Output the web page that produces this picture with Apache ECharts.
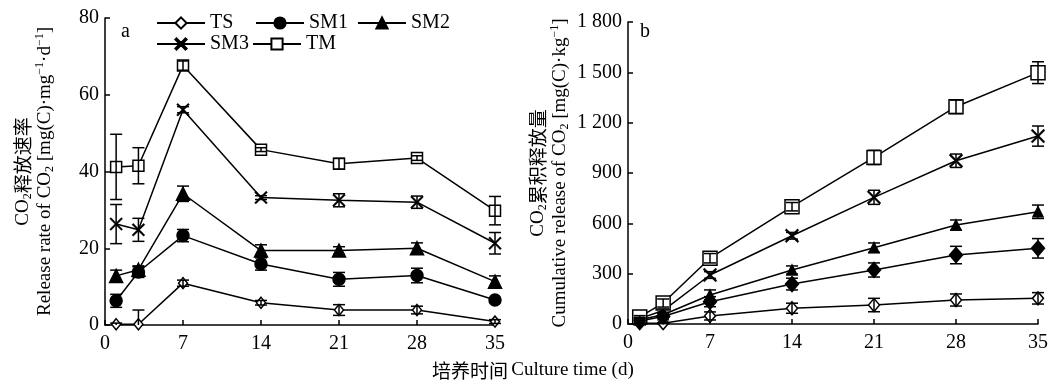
<!DOCTYPE html>
<html>
<head>
<meta charset="utf-8">
<style>
  html, body { margin: 0; padding: 0; background: #fff; }
  #main { width: 1051px; height: 383px; }
</style>
<script src="https://cdn.jsdelivr.net/npm/echarts@6/dist/echarts.min.js"></script>
</head>
<body>
<div id="main"></div>
<script>
// culture days
var days = [1, 3, 7, 14, 21, 28, 35];
var names = ['TS', 'SM1', 'SM2', 'SM3', 'TM'];

// a: CO2 release rate
var rateTS  = [0.2, 0.2, 10.9, 5.8, 3.9, 3.9, 0.9];
var rateSM1 = [6.3, 13.8, 23.3, 15.9, 11.9, 12.9, 6.5];
var rateSM2 = [12.8, 14.4, 34.2, 19.4, 19.4, 20.0, 11.3];
var rateSM3 = [26.3, 24.8, 56.1, 33.2, 32.5, 32.0, 21.3];
var rateTM  = [41.2, 41.5, 67.6, 45.7, 42.0, 43.5, 29.8];
var rateErrTS  = [0.3, 3.7, 0.8, 0.6, 1.4, 1.0, 0.5];
var rateErrSM1 = [1.7, 1.4, 1.6, 1.6, 1.8, 1.9, 0.6];
var rateErrSM2 = [1.5, 1.0, 2.0, 1.5, 1.0, 1.4, 1.5];
var rateErrSM3 = [5.1, 3.0, 0.8, 0.5, 1.7, 1.6, 2.8];
var rateErrTM  = [8.5, 4.7, 1.2, 0.5, 1.4, 0.6, 3.7];

// b: cumulative CO2 release
var cumTS  = [5, 5, 48, 94, 113, 143, 153];
var cumSM1 = [18, 45, 133, 238, 322, 411, 451];
var cumSM2 = [25, 55, 173, 322, 455, 590, 669];
var cumSM3 = [32, 80, 292, 526, 755, 973, 1120];
var cumTM  = [42, 125, 392, 699, 993, 1295, 1498];
var cumErrTS  = [3, 3, 24, 30, 40, 36, 34];
var cumErrSM1 = [5, 8, 30, 35, 42, 52, 58];
var cumErrSM2 = [5, 8, 30, 24, 28, 30, 40];
var cumErrSM3 = [8, 10, 20, 20, 42, 40, 60];
var cumErrTM  = [8, 24, 28, 25, 42, 40, 65];

var xTicks = [0, 7, 14, 21, 28, 35];
var rateTicks = [0, 20, 40, 60, 80];
var cumTicks = [0, 300, 600, 900, 1200, 1500, 1800];

var SERIF = "'Liberation Serif', 'Times New Roman', serif";
var CJK = "'Noto Sans CJK SC', sans-serif";
var XMARK = 'path://M0,1L1,0L5,4L9,0L10,1L6,5L10,9L9,10L5,6L1,10L0,9L4,5Z';

var chart = echarts.init(document.getElementById('main'), null, { renderer: 'canvas' });

var rich = {
  e: { fontFamily: SERIF, fontSize: 19, lineHeight: 22, color: '#000' },
  c: { fontFamily: CJK, fontSize: 19, lineHeight: 22, color: '#000' },
  sub: { fontFamily: SERIF, fontSize: 12, lineHeight: 8, verticalAlign: 'bottom', color: '#000' },
  sup: { fontFamily: SERIF, fontSize: 12, lineHeight: 8, verticalAlign: 'top', color: '#000' }
};

function pairs(vals) {
  return days.map(function (d, i) { return [d, vals[i]]; });
}

function errData(vals, errs) {
  return days.map(function (d, i) { return [d, vals[i], errs[i]]; });
}

function errRender(params, api) {
  var x = api.value(0), y = api.value(1), e = api.value(2);
  var lowV = Math.max(0, y - e);
  var hi = api.coord([x, y + e]);
  var lo = api.coord([x, lowV]);
  var w = 6;
  var st = { stroke: '#000', lineWidth: 1.5 };
  var kids = [
    { type: 'line', shape: { x1: hi[0], y1: hi[1], x2: lo[0], y2: lo[1] }, style: st },
    { type: 'line', shape: { x1: hi[0] - w, y1: hi[1], x2: hi[0] + w, y2: hi[1] }, style: st }
  ];
  if (y - e > 0) {
    kids.push({ type: 'line', shape: { x1: lo[0] - w, y1: lo[1], x2: lo[0] + w, y2: lo[1] }, style: st });
  }
  return { type: 'group', children: kids };
}

function lineSeries(name, vals, sym, size, fill, idx) {
  return {
    type: 'line',
    name: name,
    xAxisIndex: idx,
    yAxisIndex: idx,
    data: pairs(vals),
    symbol: sym,
    symbolSize: size,
    showAllSymbol: true,
    itemStyle: { color: fill, borderColor: '#000', borderWidth: sym === XMARK ? 0.3 : 1.5 },
    lineStyle: { color: '#000', width: 1.5 },
    emphasis: { disabled: true },
    z: 2
  };
}

function errSeries(list, idx) {
  var all = [];
  list.forEach(function (p) { all = all.concat(errData(p[0], p[1])); });
  return {
    type: 'custom',
    xAxisIndex: idx,
    yAxisIndex: idx,
    data: all,
    renderItem: errRender,
    z: 3,
    silent: true
  };
}

function xAxis(idx) {
  return {
    type: 'value',
    gridIndex: idx,
    min: 0, max: 35, interval: 7,
    axisLine: { show: true, lineStyle: { color: '#000', width: 1.5 } },
    axisTick: { show: true, inside: true, length: 5, lineStyle: { color: '#000', width: 1.5 } },
    axisLabel: { color: '#000', fontSize: 20, fontFamily: SERIF, margin: 9 },
    splitLine: { show: false }
  };
}

function yAxis(idx, ticks, name, gap, fmt) {
  return {
    type: 'value',
    gridIndex: idx,
    min: ticks[0], max: ticks[ticks.length - 1], interval: ticks[1] - ticks[0],
    name: name,
    nameLocation: 'middle',
    nameRotate: 90,
    nameGap: gap,
    nameTextStyle: { rich: rich, align: 'center' },
    axisLine: { show: true, lineStyle: { color: '#000', width: 1.5 } },
    axisTick: { show: true, inside: true, length: 5, lineStyle: { color: '#000', width: 1.5 } },
    axisLabel: { color: '#000', fontSize: 20, fontFamily: SERIF, margin: 6, formatter: fmt },
    splitLine: { show: false }
  };
}

function spaced(v) {
  return v >= 1000 ? String(v).replace(/(\d)(\d{3})$/, '$1 $2') : String(v);
}

var legendPos = [[156, 13], [255, 13], [357, 13], [156, 34], [252, 34]];
var legends = names.map(function (n, i) {
  return {
    data: [n],
    left: legendPos[i][0],
    top: legendPos[i][1],
    padding: 0,
    itemWidth: 48,
    itemHeight: 14,
    itemGap: 0,
    selectedMode: false,
    textStyle: { fontFamily: SERIF, fontSize: 20, color: '#000', padding: [0, 0, 0, 0] }
  };
});

var option = {
  animation: false,
  backgroundColor: '#fff',
  textStyle: { fontFamily: SERIF },
  legend: legends,
  grid: [
    { left: 105, top: 18, width: 390, height: 307 },
    { left: 628, top: 22, width: 410, height: 302 }
  ],
  xAxis: [xAxis(0), xAxis(1)],
  yAxis: [
    yAxis(0, rateTicks,
      '{e|CO}{sub|2}{c|释放速率}\n{e|Release rate of CO}{sub|2}{e| [mg(C)·mg}{sup|−1}{e|·d}{sup|−1}{e|]}',
      49, spaced),
    yAxis(1, cumTicks,
      '{e|CO}{sub|2}{c|累积释放量}\n{e|Cumulative release of CO}{sub|2}{e| [mg(C)·kg}{sup|−1}{e|]}',
      57, spaced)
  ],
  series: [
    lineSeries('TS', rateTS, 'diamond', [9, 11], '#fff', 0),
    lineSeries('SM1', rateSM1, 'circle', 12, '#000', 0),
    lineSeries('SM2', rateSM2, 'triangle', 13, '#000', 0),
    lineSeries('SM3', rateSM3, XMARK, 13, '#000', 0),
    lineSeries('TM', rateTM, 'rect', 11, '#fff', 0),
    errSeries([[rateTS, rateErrTS], [rateSM1, rateErrSM1], [rateSM2, rateErrSM2],
      [rateSM3, rateErrSM3], [rateTM, rateErrTM]], 0),
    lineSeries('TS', cumTS, 'diamond', [11, 13], '#fff', 1),
    lineSeries('SM1', cumSM1, 'diamond', [13, 15], '#000', 1),
    lineSeries('SM2', cumSM2, 'triangle', 10, '#000', 1),
    lineSeries('SM3', cumSM3, XMARK, 14, '#000', 1),
    lineSeries('TM', cumTM, 'rect', 14, '#fff', 1),
    errSeries([[cumTS, cumErrTS], [cumSM1, cumErrSM1], [cumSM2, cumErrSM2],
      [cumSM3, cumErrSM3], [cumTM, cumErrTM]], 1)
  ],
  graphic: [
    { type: 'text', left: 121, top: 22, style: { text: 'a', font: '20px ' + SERIF, fill: '#000' } },
    { type: 'text', left: 640, top: 22, style: { text: 'b', font: '20px ' + SERIF, fill: '#000' } },
    {
      type: 'text', left: 432, top: 361,
      style: {
        text: '{c|培养时间} {e|Culture time (d)}',
        rich: rich
      }
    }
  ]
};

chart.setOption(option);
</script>
</body>
</html>
